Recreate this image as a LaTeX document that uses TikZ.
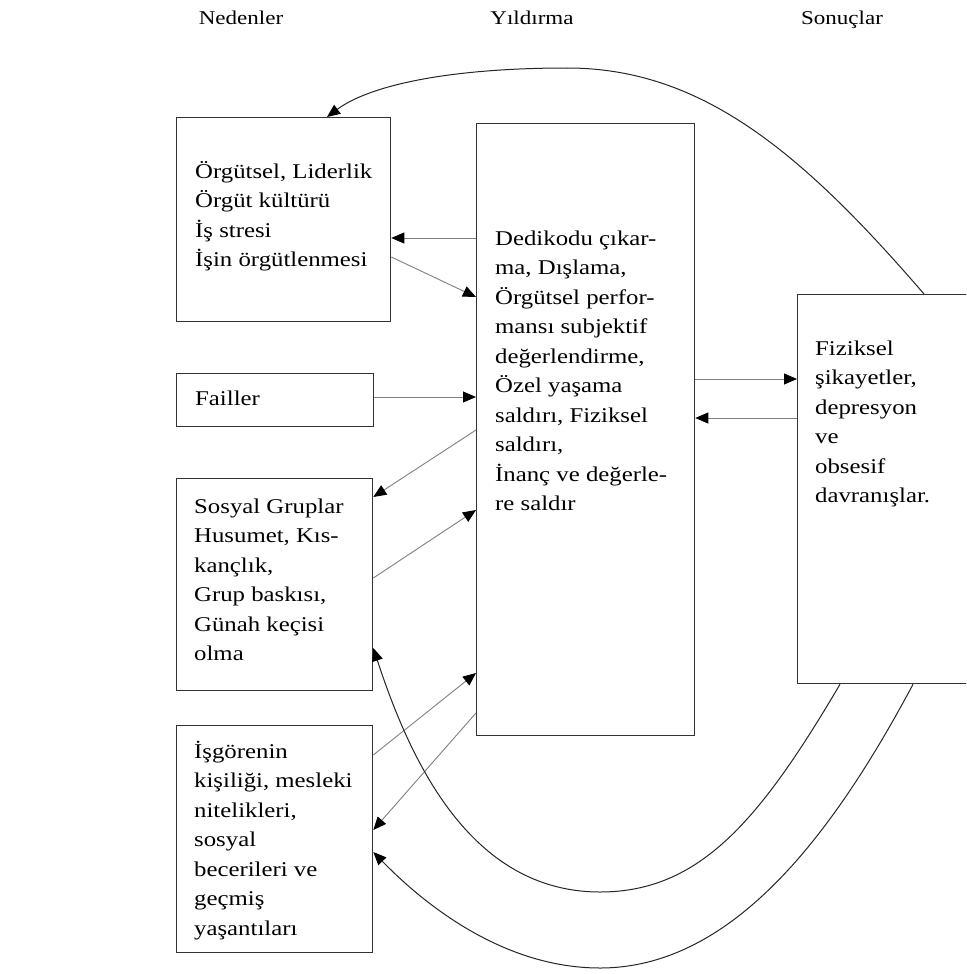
\documentclass[tikz,border=0pt]{standalone}
\usepackage{fontspec}
\setmainfont[FakeStretch=1.18]{Liberation Serif}
\usetikzlibrary{arrows.meta}
\newcommand\stk[1]{\begin{tabular}[t]{@{}l@{}}#1\end{tabular}}
\begin{document}
\begin{tikzpicture}[x=1pt,y=-1pt,
  box/.style={draw=black!80, line width=1.3pt, inner sep=0pt, anchor=north west},
  txt/.style={anchor=base west, inner sep=0pt, font=\fontsize{21}{29.5}\selectfont, text=black},
  ttl/.style={anchor=base, inner sep=0pt, font=\fontsize{19.5}{24}\selectfont, text=black},
  gline/.style={draw=black!50, line width=0.9pt, -{Triangle[length=13pt,width=11pt,color=black]}},
  cline/.style={draw=black!85, line width=1pt, -{Triangle[length=13pt,width=11pt,color=black]}},
]
\useasboundingbox (0,0) rectangle (966,974);
\clip (0,0) rectangle (966,974);
\fill[white] (0,0) rectangle (966,974);

% titles
\node[ttl] (h1) at (241,25) {Nedenler};
\node[ttl] (h2) at (532,25) {Yıldırma};
\node[ttl] (h3) at (842,25) {Sonuçlar};

% boxes
\node[box, minimum width=214pt, minimum height=204pt] (b1) at (176,117) {};
\node[box, minimum width=218pt, minimum height=612pt] (mid) at (476,123) {};
\node[box, minimum width=200pt, minimum height=389pt] (rb) at (797,294) {};
\node[box, minimum width=197pt, minimum height=53pt] (fa) at (176,373) {};
\node[box, minimum width=196pt, minimum height=212pt] (so) at (176,478) {};
\node[box, minimum width=196pt, minimum height=227pt] (is) at (176,725) {};

% texts
\node[txt] (t1) at (195,178) {\stk{Örgütsel, Liderlik\\Örgüt kültürü\\İş stresi\\İşin örgütlenmesi}};
\node[txt] (tm) at (495,245) {\stk{Dedikodu çıkar-\\ma, Dışlama,\\Örgütsel perfor-\\mansı subjektif\\değerlendirme,\\Özel yaşama\\saldırı, Fiziksel\\saldırı,\\İnanç ve değerle-\\re saldır}};
\node[txt] (tr) at (815,355) {\stk{Fiziksel\\şikayetler,\\depresyon\\ve\\obsesif\\davranışlar.}};
\node[txt] (tf) at (195,405) {Failler};
\node[txt] (ts) at (194,513) {\stk{Sosyal Gruplar\\Husumet, Kıs-\\kançlık,\\Grup baskısı,\\Günah keçisi\\olma}};
\node[txt] (ti) at (194,758) {\stk{İşgörenin\\kişiliği, mesleki\\nitelikleri,\\sosyal\\becerileri ve\\geçmiş\\yaşantıları}};

% straight connectors
\draw[gline] (mid.west |- 0,238) -- (b1.east |- 0,238);
\draw[gline] (b1.east |- 0,257) -- (mid.west |- 0,297);
\draw[gline] (fa.east |- 0,397) -- (mid.west |- 0,397);
\draw[gline] (mid.west |- 0,430) -- (so.east |- 0,497);
\draw[gline] (so.east |- 0,578) -- (mid.west |- 0,510);
\draw[gline] (is.east |- 0,755) -- (mid.west |- 0,673);
\draw[gline] (mid.west |- 0,713) -- (is.east |- 0,830);
\draw[gline] (mid.east |- 0,379) -- (rb.west |- 0,379);
\draw[gline] (rb.west |- 0,418) -- (mid.east |- 0,418);

% curved connectors
\draw[cline] (rb.north -| 924,0) .. controls (800,150) and (700,68) .. (567,68) .. controls (450,68) and (370,85) .. (b1.north -| 327,0);
\draw[cline] (rb.south -| 840,0) .. controls (760,820) and (700,892) .. (600,892) .. controls (470,892) and (410,760) .. (so.east |- 0,648);
\draw[cline] (rb.south -| 913,0) .. controls (830,840) and (730,968) .. (600,968) .. controls (500,968) and (420,900) .. (is.east |- 0,852);
\end{tikzpicture}
\end{document}
